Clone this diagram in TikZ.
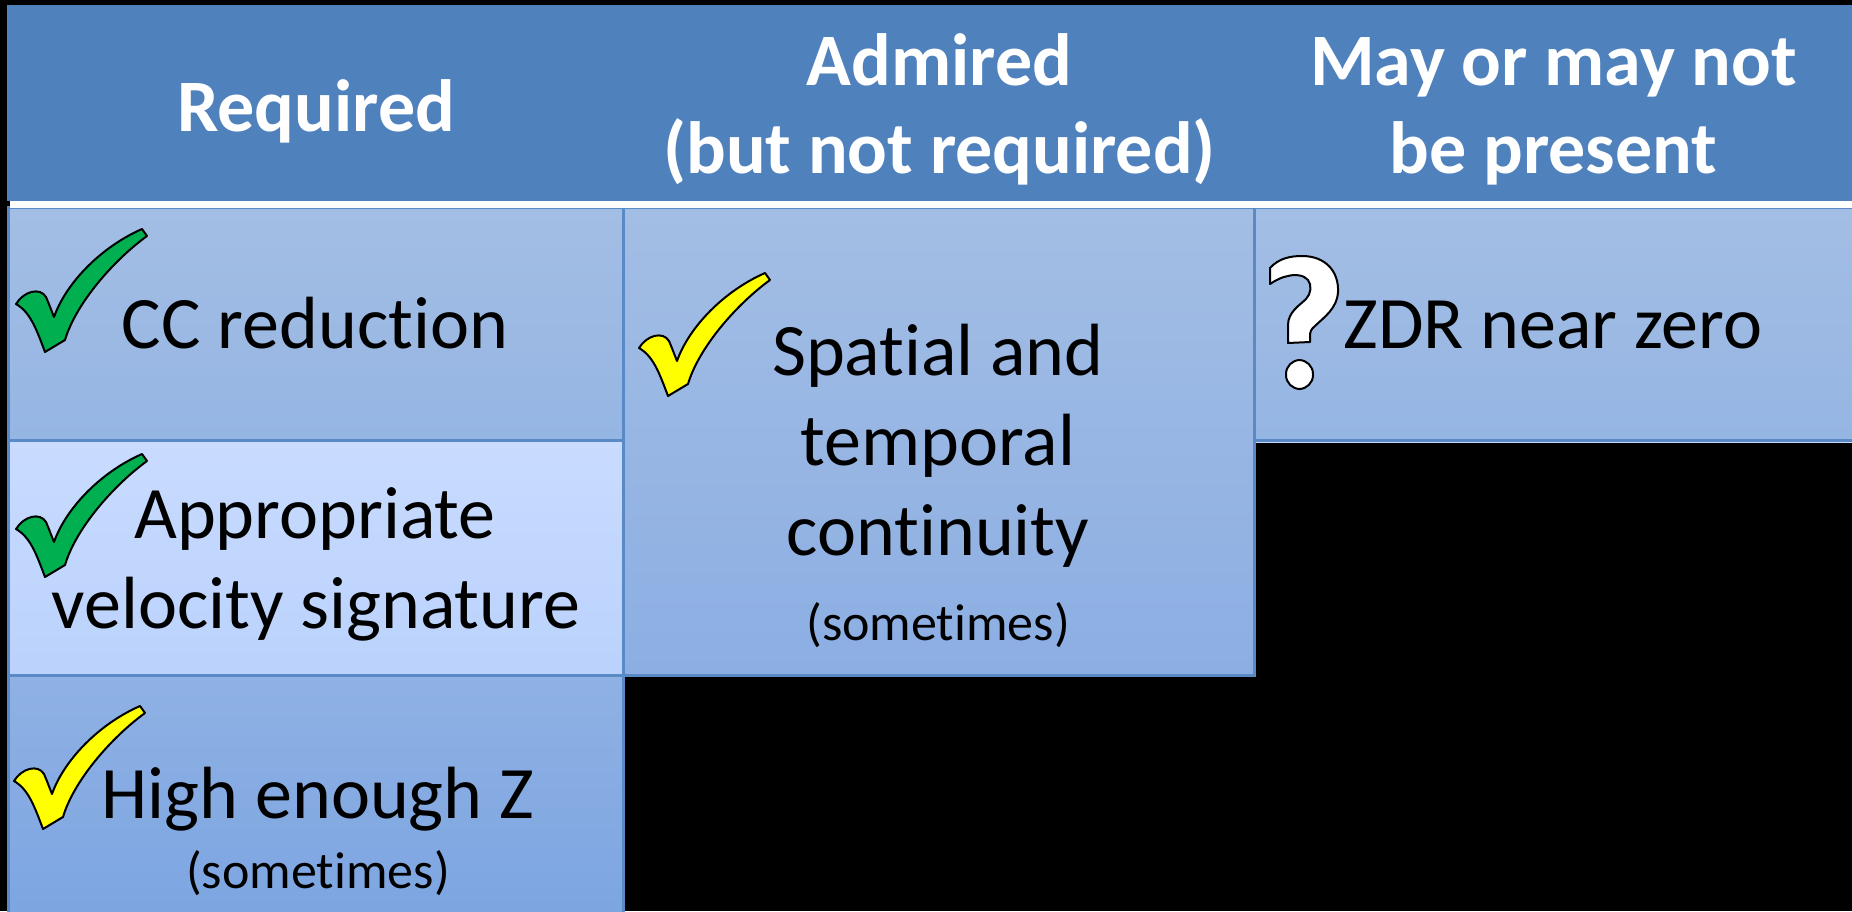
\documentclass[tikz,border=0pt]{standalone}
\usepackage{fontspec}
\setmainfont{Carlito}[Ligatures={NoCommon,NoRare,NoContextual}]
\definecolor{hdr}{HTML}{4F81BD}
\definecolor{bord}{HTML}{5A8AC6}
\definecolor{rAt}{HTML}{A3BEE4}
\definecolor{rAb}{HTML}{95B5E3}
\definecolor{rBt}{HTML}{C9DBFF}
\definecolor{rBb}{HTML}{BAD2FC}
\definecolor{rCt}{HTML}{8FB1E4}
\definecolor{rCb}{HTML}{7CA5E1}
\definecolor{cBt}{HTML}{A3BEE4}
\definecolor{cBb}{HTML}{8CAEE3}
\definecolor{chkgreen}{HTML}{00B050}
\definecolor{chkyellow}{HTML}{FFFF00}
\tikzset{
  pics/checkmark/.style={code={
    \draw[line width=1pt, draw=black, line join=round, fill=#1]
      (0,76) .. controls (8,63) and (24,59) .. (30,69)
      .. controls (33,76) and (36,84) .. (38,89)
      .. controls (50,55) and (85,19) .. (126,1)
      -- (131,8)
      .. controls (98,32) and (60,75) .. (49,112)
      -- (29,124)
      .. controls (20,100) and (14,84) .. (0,76) -- cycle;
  }}
}
\begin{document}
\begin{tikzpicture}[x=0.5pt,y=-0.5pt,
  cell/.style={draw=bord, line width=1.5pt},
  hdrtxt/.style={text=white, font=\bfseries\fontsize{37}{44}\selectfont, anchor=base, inner sep=0pt},
  bodytxt/.style={text=black, font=\fontsize{37}{44}\selectfont, anchor=base, inner sep=0pt},
  smalltxt/.style={text=black, font=\fontsize{26}{31}\selectfont, anchor=base, inner sep=0pt},
  qmark/.style={line width=1pt, draw=black, fill=white, line join=round}
]
\useasboundingbox (0,0) rectangle (1852,911);
\clip (0,0) rectangle (1852,911);
\fill[black] (0,0) rectangle (1852,911);
% header
\fill[hdr] (7,5) rectangle (1860,201);
% cells
\shade[cell, top color=rAt, bottom color=rAb] (8.5,207) rectangle (623.5,440);
\shade[cell, top color=rBt, bottom color=rBb] (8.5,440) rectangle (623.5,675.5);
\shade[cell, top color=rCt, bottom color=rCb] (8.5,675.5) rectangle (623.5,920);
\shade[cell, top color=cBt, bottom color=cBb] (623.5,207) rectangle (1254.5,675.5);
\shade[cell, top color=rAt, bottom color=rAb] (1254.5,207) rectangle (1860,440);
\fill[rBt] (1256,441.5) rectangle (1860,443);
% white separator
\fill[white] (10,201) rectangle (1860,207.5);
% header texts
\node[hdrtxt] (hreq) at (316,131) {Required};
\node[hdrtxt] (hadm1) at (939.5,85) {Admired};
\node[hdrtxt] (hadm2) at (939.5,173) {(but not required)};
\node[hdrtxt] (hmay1) at (1553.5,85) {May or may not};
\node[hdrtxt] (hmay2) at (1553.5,173) {be present};
% column 1
\pic at (16,228) {checkmark=chkgreen};
\node[bodytxt] (cc) at (315,348) {CC reduction};
\pic at (16,453) {checkmark=chkgreen};
\node[bodytxt] (app1) at (315,538) {Appropriate};
\node[bodytxt] (app2) at (316,628) {velocity signature};
\pic at (14,705) {checkmark=chkyellow};
\node[bodytxt] (hz) at (318,818) {High enough Z};
\node[smalltxt] (hzs) at (318,888) {(sometimes)};
% column 2
\pic at (639,272) {checkmark=chkyellow};
\node[bodytxt] (sp1) at (938,375) {Spatial and};
\node[bodytxt] (sp2) at (938,465) {temporal};
\node[bodytxt] (sp3) at (938,555) {continuity};
\node[smalltxt] (sp4) at (938,640) {(sometimes)};
% column 3
\draw[qmark] (1270,284) -- (1270,268)
  .. controls (1279,258) and (1291,256) .. (1302,256)
  .. controls (1326,256) and (1339,272) .. (1338,292)
  .. controls (1337,309) and (1323,318) .. (1315,326)
  .. controls (1311,329) and (1310,332) .. (1310,336)
  -- (1310,342) -- (1288,343) -- (1288,325)
  .. controls (1288,312) and (1300,305) .. (1306,299)
  .. controls (1311,294) and (1312,285) .. (1308,280)
  .. controls (1304,275) and (1295,274) .. (1288,276)
  .. controls (1282,277) and (1276,280) .. (1270,284) -- cycle;
\draw[qmark, rounded corners=7pt] (1286,360) rectangle (1313,389);
\node[bodytxt] (zdr) at (1553,348) {ZDR near zero};
\end{tikzpicture}
\end{document}
